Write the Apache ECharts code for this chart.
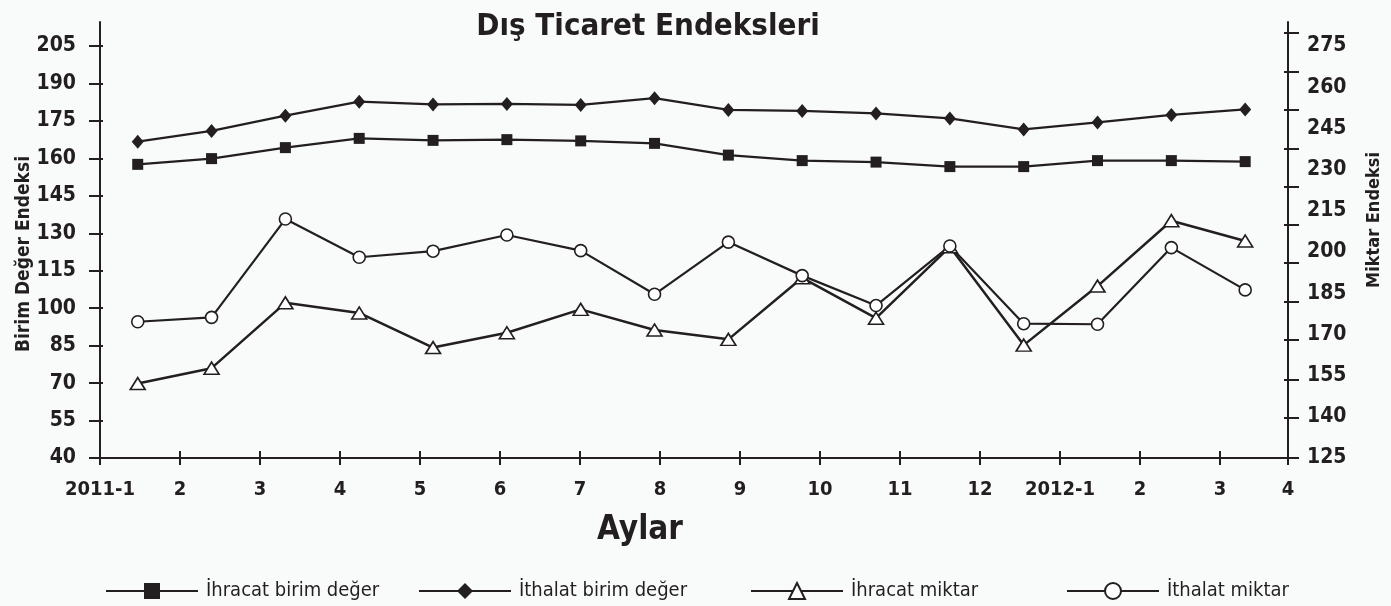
<!DOCTYPE html>
<html>
<head>
<meta charset="utf-8">
<script src="https://cdn.jsdelivr.net/npm/echarts@6/dist/echarts.min.js"></script>
<style>
  html, body { margin: 0; padding: 0; background: #f9fbfb; }
  #main { width: 1391px; height: 606px; }
</style>
</head>
<body>
<div id="main"></div>
<script>
// aylar (16 nokta), 2011-1 .. 2012-4
var months = ['2011-1','2011-2','2011-3','2011-4','2011-5','2011-6','2011-7','2011-8',
              '2011-9','2011-10','2011-11','2011-12','2012-1','2012-2','2012-3','2012-4'];

// birim deger endeksleri (sol eksen)
var ihracatBirim = [157.6, 159.9, 164.3, 168.0, 167.2, 167.5, 167.0, 166.0,
                    161.3, 159.1, 158.5, 156.7, 156.7, 159.1, 159.1, 158.7];
var ithalatBirim = [166.7, 171.0, 177.1, 182.7, 181.6, 181.8, 181.4, 184.1,
                    179.4, 179.0, 178.0, 176.0, 171.6, 174.4, 177.4, 179.6];

// miktar endeksleri (sag eksen)
var ihracatMiktar = [152.1, 157.7, 181.5, 177.8, 165.2, 170.6, 179.1, 171.6,
                     168.2, 190.6, 175.9, 201.9, 166.1, 187.6, 211.4, 204.0];
var ithalatMiktar = [174.6, 176.2, 212.0, 198.1, 200.3, 206.2, 200.5, 184.6,
                     203.6, 191.4, 180.5, 202.2, 173.9, 173.7, 201.6, 186.2];

// eksen etiketleri
var xTickLabels = ['2011-1','2','3','4','5','6','7','8','9','10','11','12','2012-1','2','3','4'];
var xTickPos = [0,1,2,3,4,5,6,7,8,9,10,11,12,13,14,14.85];
var leftTicks = [40,55,70,85,100,115,130,145,160,175,190,205];
var rightLabels = [125,140,155,170,185,200,215,230,245,260,275];
var rightTicks = [125,139.6,153.4,168,181.8,196,209.8,223.7,237.5,251.7,265.5,279.7];

var ink = '#231f20';
var fontNarrow = '"Liberation Sans Narrow", "DejaVu Sans Condensed", "Roboto", sans-serif';

var myChart = echarts.init(document.getElementById('main'));

// her ay sirasiyla (indeks, deger)
function pairs(values) {
    return values.map(function (v, i) { return [i, v]; });
}

function lineSeries(name, data, yIdx, symbol, size, fill, width) {
    return {
        name: name,
        type: 'line',
        xAxisIndex: 0,
        yAxisIndex: yIdx,
        data: pairs(data),
        symbol: symbol,
        symbolSize: size,
        showAllSymbol: true,
        animation: false,
        lineStyle: { color: ink, width: width },
        itemStyle: { color: fill, borderColor: ink, borderWidth: fill === ink ? 0 : 1.6 },
        emphasis: { disabled: true },
        z: 3
    };
}

function legendAt(name, left) {
    return {
        data: [name],
        left: left,
        top: 576,
        itemWidth: 92,
        itemHeight: 20,
        selectedMode: false,
        textStyle: { fontFamily: fontNarrow, fontSize: 20, color: ink, padding: [0, 0, 0, 3] }
    };
}

// sadece tik cizen yardimci eksen (tikler ekseni kessin diye)
function tickAxis(pos, min, max, ticks, len) {
    return {
        type: 'value',
        position: pos,
        min: min,
        max: max,
        splitLine: { show: false },
        axisLine: { show: false, onZero: false },
        axisLabel: { show: false },
        axisTick: { show: true, inside: true, customValues: ticks, length: len, lineStyle: { color: ink, width: 2 } }
    };
}

var option = {
    backgroundColor: '#f9fbfb',
    animation: false,
    title: {
        text: 'Dış Ticaret Endeksleri',
        left: 643,
        textAlign: 'center',
        top: 6,
        textStyle: { fontFamily: fontNarrow, fontSize: 31, fontWeight: 'bold', color: ink }
    },
    legend: [
        legendAt('İhracat birim değer', 100),
        legendAt('İthalat birim değer', 413),
        legendAt('İhracat miktar', 745),
        legendAt('İthalat miktar', 1061)
    ],
    grid: { left: 100, right: 103, top: 22, bottom: 148 },
    xAxis: [
        {   // veri ekseni (gizli): ay indeksleri
            type: 'value',
            min: -0.511,
            max: 15.58,
            show: false,
            axisLine: { onZero: false }
        },
        {   // gorunen ay ekseni
            type: 'value',
            position: 'bottom',
            min: 0,
            max: 14.85,
            splitLine: { show: false },
            axisLine: { show: true, onZero: false, lineStyle: { color: ink, width: 2 } },
            axisTick: { show: true, customValues: xTickPos, length: 7, lineStyle: { color: ink, width: 2 } },
            axisLabel: {
                customValues: xTickPos,
                margin: 22,
                color: ink,
                fontFamily: fontNarrow,
                fontSize: 20,
                fontWeight: 'bold',
                formatter: function (v) {
                    for (var i = 0; i < xTickPos.length; i++) {
                        if (Math.abs(xTickPos[i] - v) < 1e-6) return xTickLabels[i];
                    }
                    return '';
                }
            }
        },
        tickAxis('bottom', 0, 14.85, xTickPos, 7)
    ],
    yAxis: [
        {
            type: 'value',
            position: 'left',
            min: 40,
            max: 214.61,
            splitLine: { show: false },
            axisLine: { show: true, onZero: false, lineStyle: { color: ink, width: 2 } },
            axisTick: { show: true, customValues: leftTicks, length: 11, lineStyle: { color: ink, width: 2 } },
            axisLabel: {
                customValues: leftTicks,
                margin: 24,
                color: ink,
                fontFamily: fontNarrow,
                fontSize: 21,
                fontWeight: 'bold'
            }
        },
        {
            type: 'value',
            position: 'right',
            min: 125,
            max: 283.74,
            splitLine: { show: false },
            axisLine: { show: true, onZero: false, lineStyle: { color: ink, width: 2 } },
            axisTick: { show: true, customValues: rightTicks, length: 11, lineStyle: { color: ink, width: 2 } },
            axisLabel: {
                customValues: rightLabels,
                margin: 19,
                color: ink,
                fontFamily: fontNarrow,
                fontSize: 21,
                fontWeight: 'bold'
            }
        },
        tickAxis('left', 40, 214.61, leftTicks, 3),
        tickAxis('right', 125, 283.74, rightTicks, 4)
    ],
    graphic: [
        {
            type: 'text', x: 640, y: 530,
            style: { text: 'Aylar', fill: ink, font: 'bold 33px ' + fontNarrow, textAlign: 'center', textVerticalAlign: 'middle' }
        },
        {
            type: 'text', x: 24, y: 254, rotation: Math.PI / 2,
            style: { text: 'Birim Değer Endeksi', fill: ink, font: 'bold 19px ' + fontNarrow, textAlign: 'center', textVerticalAlign: 'middle' }
        },
        {
            type: 'text', x: 1374, y: 220, rotation: Math.PI / 2,
            style: { text: 'Miktar Endeksi', fill: ink, font: 'bold 18px ' + fontNarrow, textAlign: 'center', textVerticalAlign: 'middle' }
        }
    ],
    series: [
        lineSeries('İhracat birim değer', ihracatBirim, 0, 'rect', 11, ink, 2.2),
        lineSeries('İthalat birim değer', ithalatBirim, 0, 'diamond', [12, 14], ink, 2.2),
        lineSeries('İhracat miktar', ihracatMiktar, 1, 'triangle', [15, 12], '#ffffff', 2.5),
        lineSeries('İthalat miktar', ithalatMiktar, 1, 'circle', 12, '#ffffff', 2.2)
    ]
};

myChart.setOption(option);
</script>
</body>
</html>
